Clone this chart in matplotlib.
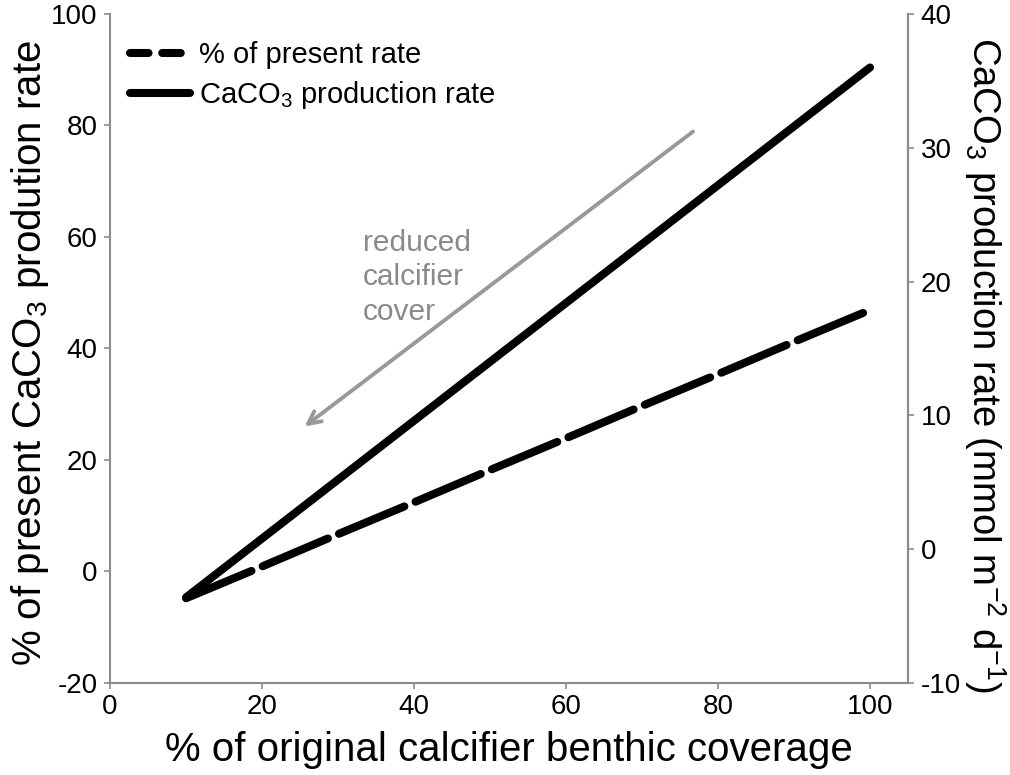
import matplotlib
matplotlib.use("Agg")
import matplotlib.pyplot as plt
from matplotlib.lines import Line2D

plt.rcParams["font.family"] = ["Liberation Sans", "DejaVu Sans"]
plt.rcParams["mathtext.fontset"] = "custom"
plt.rcParams["mathtext.rm"] = "Liberation Sans"
plt.rcParams["mathtext.it"] = "Liberation Sans:italic"
plt.rcParams["mathtext.bf"] = "Liberation Sans:bold"
plt.rcParams["axes.unicode_minus"] = False

# data
coverage = [10, 20, 30, 40, 50, 60, 70, 80, 90, 100]
pct_present = [-4.8, 0.9, 6.7, 12.4, 18.2, 23.9, 29.7, 35.4, 41.2, 46.9]
caco3_rate = [-3.6, 0.8, 5.2, 9.6, 14.0, 18.4, 22.8, 27.2, 31.6, 36.0]

x_ticks = [0, 20, 40, 60, 80, 100]
left_ticks = [-20, 0, 20, 40, 60, 80, 100]
right_ticks = [-10, 0, 10, 20, 30, 40]

grey = "#8c8c8c"
lw = 5.8

fig = plt.figure(figsize=(10.1, 7.75), dpi=100)
ax = fig.add_axes([0.109, 0.1187, 0.790, 0.8633])
ax2 = ax.twinx()

ax.plot(coverage, pct_present, color="black", lw=lw, dashes=(8.8, 1.5),
        dash_capstyle="round", solid_capstyle="round", zorder=3)
ax2.plot(coverage, caco3_rate, color="black", lw=lw,
         solid_capstyle="round", zorder=3)

ax.set_xlim(0, 105)
ax.set_ylim(-20, 100)
ax2.set_ylim(-10, 40)
ax.set_xticks(x_ticks)
ax.set_yticks(left_ticks)
ax2.set_yticks(right_ticks)

for a in (ax, ax2):
    a.spines["top"].set_visible(False)
    for s in ("left", "right", "bottom"):
        a.spines[s].set_color(grey)
        a.spines[s].set_linewidth(1.5)
    a.tick_params(colors=grey, labelcolor="black", labelsize=20,
                  length=4, width=1.2, direction="out", pad=5)
ax2.spines["left"].set_visible(False)
ax2.spines["bottom"].set_visible(False)
ax.tick_params(axis="x", pad=4)

ax.set_xlabel("% of original calcifier benthic coverage", fontsize=29, labelpad=8)
ax.set_ylabel("% of present CaCO$_3$ prodution rate", fontsize=29, va="center")
ax.yaxis.set_label_coords(-0.1, 0.493)
ax2.set_ylabel("CaCO$_3$ production rate (mmol m$^{-2}$ d$^{-1}$)", fontsize=27.5,
               rotation=270, va="center")
ax2.yaxis.set_label_coords(1.097, 0.475)

# arrow + annotation
ax.annotate("", xy=(25.3, 25.7), xytext=(77, 79.2),
            arrowprops=dict(arrowstyle="->,head_length=0.9,head_width=0.45",
                            color="#999999", lw=2.8))
ax.text(33.3, 61.5, "reduced\ncalcifier\ncover", color="#8a8a8a", fontsize=21.5,
        va="top", ha="left", linespacing=1.3)

handles = [
    Line2D([], [], color="black", lw=lw, dashes=(2.3, 1.7), dash_capstyle="round"),
    Line2D([], [], color="black", lw=lw, solid_capstyle="round"),
]
labels = ["% of present rate", "CaCO$_3$ production rate"]
ax.legend(handles, labels, loc="upper left", bbox_to_anchor=(0.025, 0.96),
          frameon=False, fontsize=21, handlelength=2.05, handletextpad=0.3,
          borderpad=0, borderaxespad=0, labelspacing=0.35)

fig.savefig("out.png", dpi=100)
